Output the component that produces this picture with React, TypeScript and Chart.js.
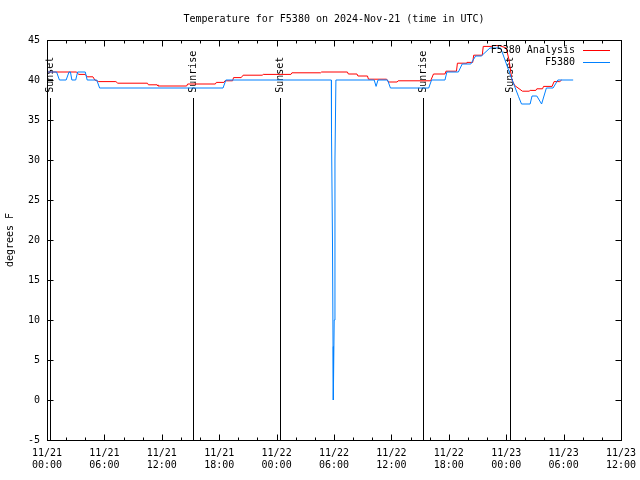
import { useEffect, useRef } from "react";
import { Chart, registerables } from "chart.js";

Chart.register(...registerables);

const chartTitle = "Temperature for F5380 on 2024-Nov-21 (time in UTC)";
const yAxisTitle = "degrees F";

const xTickHours = [0, 6, 12, 18, 24, 30, 36, 42, 48, 54, 60];
const xTickLabels = [
  "11/21 00:00", "11/21 06:00", "11/21 12:00", "11/21 18:00",
  "11/22 00:00", "11/22 06:00", "11/22 12:00", "11/22 18:00",
  "11/23 00:00", "11/23 06:00", "11/23 12:00",
];
const yTicks = [-5, 0, 5, 10, 15, 20, 25, 30, 35, 40, 45];

const analysisLabel = "F5380 Analysis";
const analysisHours = [
  0, 3.1, 3.3, 4.0, 4.2, 4.8, 5.0, 5.4, 7.2, 7.4,
  10.5, 10.6, 11.5, 11.6, 14.6, 14.7, 17.6, 17.7, 18.5, 18.6,
  19.4, 19.5, 20.3, 20.5, 22.5, 22.6, 25.5, 25.6, 28.6, 28.7,
  31.4, 31.5, 32.4, 32.5, 33.5, 33.6, 35.5, 35.7, 36.6, 36.7,
  40.1, 40.4, 41.6, 41.7, 42.8, 42.9, 43.8, 43.9, 44.5, 44.6,
  45.5, 45.6, 46.5, 46.6, 47.3, 48.0, 48.3, 48.6, 48.9, 49.7,
  50.4, 50.5, 51.1, 51.2, 51.8, 51.9, 52.8, 53.0, 53.6, 53.8,
];
const analysisTemps = [
  41.0, 41.0, 40.7, 40.7, 40.4, 40.4, 40.0, 39.8, 39.8, 39.6,
  39.6, 39.4, 39.4, 39.25, 39.25, 39.5, 39.5, 39.7, 39.7, 39.9,
  39.9, 40.3, 40.3, 40.6, 40.6, 40.7, 40.7, 40.9, 40.9, 41.0,
  41.0, 40.75, 40.75, 40.5, 40.5, 40.1, 40.1, 39.75, 39.75, 39.9,
  39.9, 40.75, 40.75, 41.1, 41.1, 42.1, 42.1, 42.2, 42.2, 43.1,
  43.1, 44.2, 44.2, 44.3, 44.3, 44.0, 42.5, 40.0, 39.3, 38.6,
  38.6, 38.7, 38.7, 38.9, 38.9, 39.2, 39.2, 39.8, 39.8, 40.0,
];

const obsLabel = "F5380";
const obsHours = [
  0, 1.0, 1.3, 2.0, 2.3, 2.45, 2.6, 3.0, 3.2, 4.0,
  4.2, 5.2, 5.5, 18.4, 18.7, 29.72, 29.74, 29.84, 29.9, 29.93,
  30.02, 30.1, 30.2, 34.2, 34.4, 34.6, 35.6, 35.9, 39.9, 40.2,
  41.6, 41.8, 43.0, 43.4, 44.3, 44.8, 45.4, 46.3, 47.4, 47.5,
  48.5, 49.3, 49.6, 50.5, 50.7, 51.2, 51.7, 52.2, 52.9, 53.4,
  55.0,
];
const obsTemps = [
  41, 41, 40, 40, 41, 41, 40, 40, 41, 41,
  40, 40, 39, 39, 40, 40, 33.3, 20, 6.7, 0,
  10, 30, 40, 40, 39.2, 40, 40, 39, 39, 40,
  40, 41, 41, 42, 42, 43, 43, 44, 44, 43.75,
  40.4, 37.9, 37, 37, 38, 38, 37, 39, 39, 40,
  40,
];

const sunHours = [0.3, 15.25, 24.35, 39.3, 48.4];
const sunLabels = ["Sunset", "Sunrise", "Sunset", "Sunrise", "Sunset"];

const FONT_FAMILY = "'DejaVu Sans Mono', monospace";
const FONT = `10px ${FONT_FAMILY}`;
const SUN_LINE_TOP = 37.75;
const SUN_TEXT_BASE = 38.4;

const overlayPlugin = {
  id: "gnuplotOverlay",
  beforeDatasetsDraw(chart: any) {
    const { ctx, chartArea: a, scales } = chart;
    const x = scales.x;
    const y = scales.y;
    ctx.save();
    ctx.strokeStyle = "#000";
    ctx.fillStyle = "#000";
    ctx.lineWidth = 1;
    ctx.font = FONT;
    sunHours.forEach((h, i) => {
      const px = Math.round(x.getPixelForValue(h)) + 0.5;
      ctx.beginPath();
      ctx.moveTo(px, Math.round(y.getPixelForValue(SUN_LINE_TOP)));
      ctx.lineTo(px, a.bottom);
      ctx.stroke();
      ctx.save();
      ctx.translate(px, y.getPixelForValue(SUN_TEXT_BASE));
      ctx.rotate(-Math.PI / 2);
      ctx.textAlign = "left";
      ctx.textBaseline = "middle";
      ctx.fillText(sunLabels[i], 0, 0);
      ctx.restore();
    });
    ctx.restore();
  },
  afterDraw(chart: any) {
    const { ctx, chartArea: a, scales } = chart;
    const x = scales.x;
    const y = scales.y;
    ctx.save();
    ctx.strokeStyle = "#000";
    ctx.lineWidth = 1;
    const L = Math.round(a.left) + 0.5;
    const R = Math.round(a.right) + 0.5;
    const T = Math.round(a.top) + 0.5;
    const B = Math.round(a.bottom) + 0.5;
    ctx.beginPath();
    yTicks.forEach((v) => {
      const py = Math.round(y.getPixelForValue(v)) + 0.5;
      ctx.moveTo(L, py); ctx.lineTo(L + 6, py);
      ctx.moveTo(R, py); ctx.lineTo(R - 6, py);
    });
    for (let h = 0; h <= 60; h += 2) {
      const len = h % 6 === 0 ? 6 : 3;
      const px = Math.round(x.getPixelForValue(h)) + 0.5;
      ctx.moveTo(px, B); ctx.lineTo(px, B - len);
      ctx.moveTo(px, T); ctx.lineTo(px, T + len);
    }
    ctx.stroke();
    ctx.strokeRect(L, T, R - L, B - T);

    ctx.font = FONT;
    ctx.textAlign = "right";
    ctx.textBaseline = "middle";
    const items = [
      { label: chart.data.datasets[0].label, color: chart.data.datasets[0].borderColor },
      { label: chart.data.datasets[1].label, color: chart.data.datasets[1].borderColor },
    ];
    items.forEach((it, i) => {
      const ly = 50 + i * 12 + 0.5;
      ctx.fillStyle = "#000";
      ctx.fillText(it.label, 575, ly);
      ctx.strokeStyle = it.color;
      ctx.beginPath();
      ctx.moveTo(583, ly);
      ctx.lineTo(610, ly);
      ctx.stroke();
    });
    ctx.restore();
  },
};

export default function App() {
  const canvasRef = useRef<HTMLCanvasElement | null>(null);

  useEffect(() => {
    const canvas = canvasRef.current;
    if (!canvas) return;
    const font = { family: FONT_FAMILY, size: 10 };
    const chart = new Chart(canvas, {
      type: "line",
      data: {
        datasets: [
          {
            label: analysisLabel,
            data: analysisHours.map((h, i) => ({ x: h, y: analysisTemps[i] })),
            borderColor: "#ff0000",
            borderWidth: 1,
            pointRadius: 0,
            fill: false,
            tension: 0,
            order: 1,
          },
          {
            label: obsLabel,
            data: obsHours.map((h, i) => ({ x: h, y: obsTemps[i] })),
            borderColor: "#0080ff",
            borderWidth: 1,
            pointRadius: 0,
            fill: false,
            tension: 0,
            order: 0,
          },
        ],
      },
      options: {
        animation: false,
        responsive: false,
        maintainAspectRatio: false,
        layout: { padding: { left: 0, right: 19, top: 0, bottom: 0 } },
        plugins: {
          legend: { display: false },
          tooltip: { enabled: false },
          title: {
            display: true,
            fullSize: false,
            text: chartTitle,
            color: "#000",
            font: { family: FONT_FAMILY, size: 10, weight: "normal" },
            padding: { top: 13, bottom: 15 },
          },
        },
        scales: {
          x: {
            type: "linear",
            min: 0,
            max: 60,
            afterBuildTicks: (s: any) => {
              s.ticks = xTickHours.map((v) => ({ value: v }));
            },
            afterFit: (s: any) => {
              s.height = 40;
              s.paddingLeft = 0;
              s.paddingRight = 0;
            },
            ticks: {
              callback: (_v: any, i: number) => xTickLabels[i].split(" "),
              padding: 7,
              maxRotation: 0,
              autoSkip: false,
              color: "#000",
              font,
            },
            grid: { display: false, drawTicks: false },
            border: { display: false },
          },
          y: {
            type: "linear",
            min: -5,
            max: 45,
            afterBuildTicks: (s: any) => {
              s.ticks = yTicks.map((v) => ({ value: v }));
            },
            afterFit: (s: any) => {
              s.width = 47;
              s.paddingTop = 0;
              s.paddingBottom = 0;
            },
            ticks: { padding: 7, color: "#000", font },
            grid: { display: false, drawTicks: false },
            border: { display: false },
            title: {
              display: true,
              text: yAxisTitle,
              color: "#000",
              font,
              padding: { top: 4, bottom: 0 },
            },
          },
        },
      },
      plugins: [overlayPlugin],
    } as any);
    return () => chart.destroy();
  }, []);

  return (
    <div style={{ position: "absolute", left: 0, top: 0, width: 640, height: 480, background: "#fff" }}>
      <canvas ref={canvasRef} width={640} height={480} />
    </div>
  );
}
